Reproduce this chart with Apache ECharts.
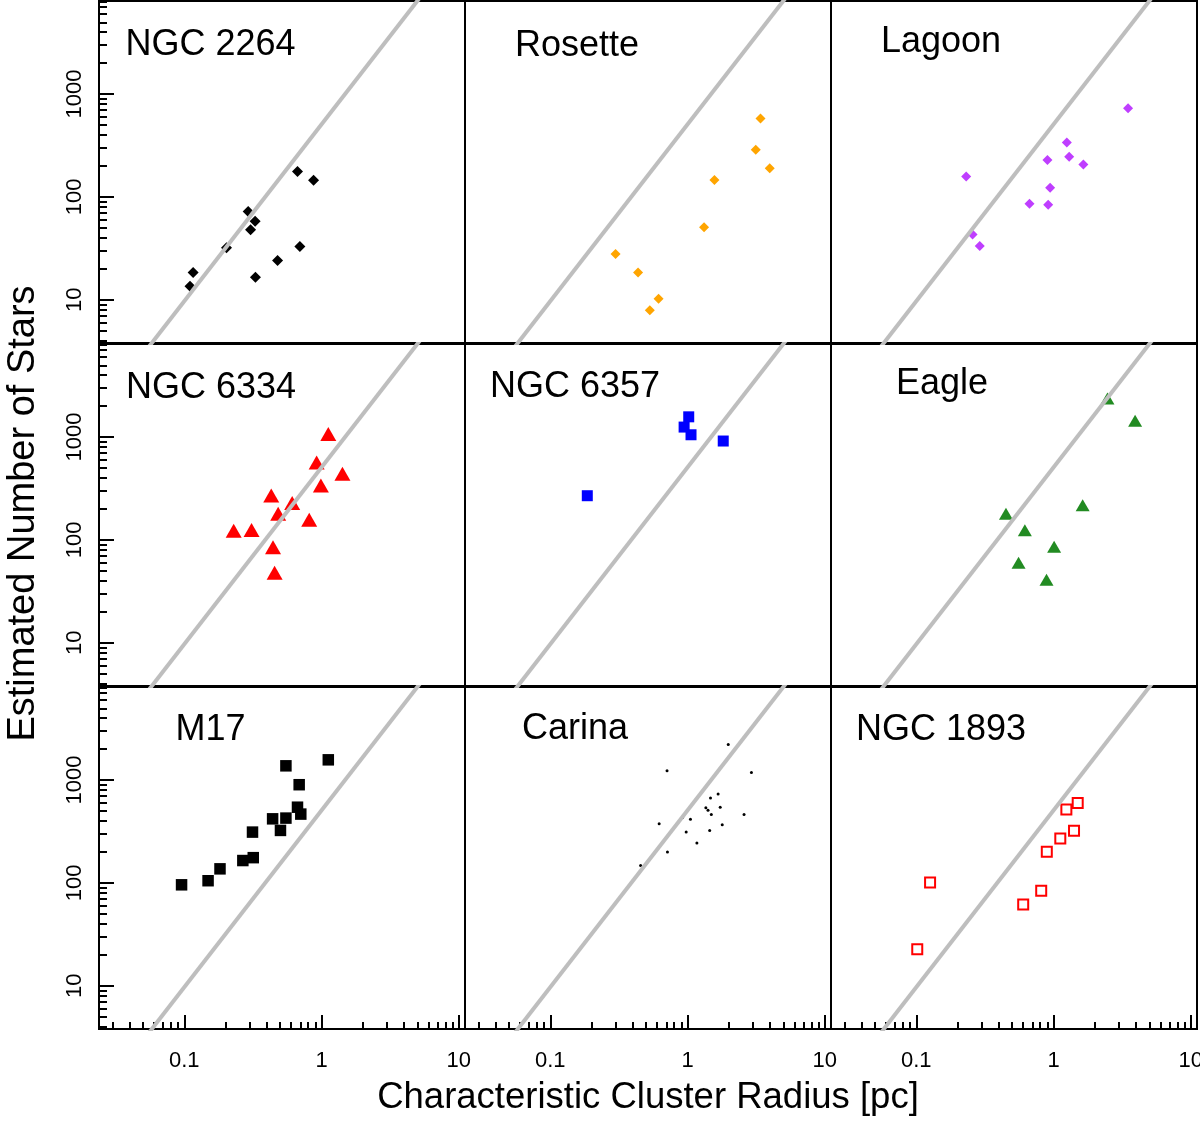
<!DOCTYPE html>
<html>
<head>
<meta charset="utf-8">
<script src="https://cdn.jsdelivr.net/npm/echarts@6/dist/echarts.min.js"></script>
<style>
html,body{margin:0;padding:0;background:#fff;}
#chart{width:1200px;height:1121px;}
</style>
</head>
<body>
<div id="chart"></div>
<script>
// ---------------- data (radius in pc, number of stars) ----------------
const panelNames = ['NGC 2264', 'Rosette', 'Lagoon', 'NGC 6334', 'NGC 6357', 'Eagle', 'M17', 'Carina', 'NGC 1893'];

const ngc2264Radius = [0.668, 0.875, 0.292, 0.328, 0.304, 0.203, 0.695, 0.478, 0.116, 0.110, 0.330];
const ngc2264Stars  = [177, 145, 72, 58, 48, 32, 33, 24, 18.4, 13.5, 16.5];

const rosetteRadius = [3.40, 3.14, 3.97, 1.57, 1.32, 0.299, 0.436, 0.615, 0.531];
const rosetteStars  = [578, 288, 190, 146, 50.6, 27.9, 18.4, 10.2, 7.9];

const lagoonRadius = [3.49, 1.25, 1.30, 0.903, 1.65, 0.231, 0.944, 0.668, 0.914, 0.257, 0.290];
const lagoonStars  = [728, 338, 246, 228, 207, 158, 123, 85.7, 83.8, 43, 33.3];

const ngc6334Radius = [1.12, 0.921, 1.42, 0.989, 0.430, 0.611, 0.483, 0.813, 0.229, 0.309, 0.443, 0.455];
const ngc6334Stars  = [1071, 565, 439, 338, 271, 228, 180, 157, 123, 125, 85, 48];

const ngc6357Radius = [1.02, 0.944, 1.06, 1.82, 0.186];
const ngc6357Stars  = [1575, 1252, 1054, 916, 269];

const eagleRadius = [2.47, 3.93, 1.63, 0.450, 0.618, 1.01, 0.556, 0.889];
const eagleStars  = [2373, 1442, 217, 180, 124, 85.7, 60, 41];

const m17Radius = [1.12, 0.550, 0.687, 0.668, 0.706, 0.440, 0.550, 0.502, 0.314, 0.318, 0.267, 0.182, 0.149, 0.0955];
const m17Stars  = [1575, 1377, 902, 545, 467, 420, 427, 324, 312, 176, 165, 137, 105, 95.8];

const carinaRadius = [1.98, 0.709, 2.92, 1.67, 1.47, 1.36, 1.41, 1.73, 1.49, 2.58, 1.05, 0.92, 0.621, 1.79, 1.45, 0.977, 1.17, 0.714, 0.455];
const carinaStars  = [2220, 1233, 1189, 733, 670, 537, 510, 545, 462, 462, 417, 432, 376, 367, 324, 312, 244, 200, 148];

const ngc1893Radius = [1.50, 1.24, 1.41, 1.12, 0.893, 0.126, 0.813, 0.601, 0.1016];
const ngc1893Stars  = [600, 517, 321, 271, 201, 101, 83.8, 61.8, 22.6];

// tick values / labels
const xMajorTicks = [0.1, 1, 10];
const xTickLabels = ['0.1', '1', '10'];
const xMinorTicks = [0.03, 0.04, 0.05, 0.06, 0.07, 0.08, 0.09, 0.2, 0.3, 0.4, 0.5, 0.6, 0.7, 0.8, 0.9, 2, 3, 4, 5, 6, 7, 8, 9];
const yMajorTicks = [10, 100, 1000];
const yTickLabels = ['10', '100', '1000'];
const yMinorTicks = [4, 5, 6, 7, 8, 9, 20, 30, 40, 50, 60, 70, 80, 90, 200, 300, 400, 500, 600, 700, 800, 900, 2000, 3000, 4000, 5000, 6000, 7000, 8000];

// axis ranges
const xRange = [0.0239, 11.1];
const yRange = [3.79, 8050];

// reference line N = refNorm * r^refSlope
const refNorm = 508;
const refSlope = 1.72;

const xTitle = 'Characteristic Cluster Radius [pc]';
const yTitle = 'Estimated Number of Stars';

// ---------------- styling ----------------
const panelData = [
  {r: ngc2264Radius, n: ngc2264Stars, symbol: 'diamond', size: 11, color: '#000000'},
  {r: rosetteRadius, n: rosetteStars, symbol: 'diamond', size: 10, color: '#FFA500'},
  {r: lagoonRadius, n: lagoonStars, symbol: 'diamond', size: 10, color: '#BF3EFF'},
  {r: ngc6334Radius, n: ngc6334Stars, symbol: 'triangle', size: [16, 14], color: '#FF0000'},
  {r: ngc6357Radius, n: ngc6357Stars, symbol: 'rect', size: 11, color: '#0000FF'},
  {r: eagleRadius, n: eagleStars, symbol: 'triangle', size: [14, 12], color: '#228B22'},
  {r: m17Radius, n: m17Stars, symbol: 'rect', size: 11.5, color: '#000000'},
  {r: carinaRadius, n: carinaStars, symbol: 'circle', size: 3, color: '#000000'},
  {r: ngc1893Radius, n: ngc1893Stars, symbol: 'rect', size: 10, color: 'rgba(0,0,0,0)', border: '#FF0000'}
];

const titlePos = [
  [125.5, 45], [515, 46], [881, 42.5],
  [126, 388.5], [490, 387.5], [896, 384.5],
  [175.5, 730.5], [522, 729.5], [856, 730.5]
];

const FONT = 'Liberation Sans, Arial, Helvetica, sans-serif';
const L = Math.log10;
const gridLeft = [99, 465, 831];
const gridTop = [1, 344, 687];
const gridW = 366, gridH = 342;
const TICK_W = 2;

function labelFor(v, ticks, labels) {
  for (let i = 0; i < ticks.length; i++) {
    if (Math.abs(L(ticks[i]) - v) < 1e-6) return labels[i];
  }
  return '';
}

const grids = [], xAxes = [], yAxes = [], series = [], graphics = [];

for (let i = 0; i < 9; i++) {
  const row = Math.floor(i / 3), col = i % 3;
  grids.push({
    left: gridLeft[col], top: gridTop[row], width: gridW, height: gridH,
    show: true, borderColor: '#000', borderWidth: 2, backgroundColor: 'rgba(0,0,0,0)',
    containLabel: false, outerBoundsMode: 'none'
  });
  const showX = row === 2, showY = col === 0;
  xAxes.push({
    type: 'value', gridIndex: i, position: 'bottom',
    min: L(xRange[0]), max: L(xRange[1]),
    axisLine: {show: false, onZero: false},
    splitLine: {show: false},
    axisTick: {show: showX, inside: true, length: 14, lineStyle: {color: '#000', width: TICK_W},
      customValues: xMajorTicks.map(L)},
    axisLabel: {show: showX, customValues: xMajorTicks.map(L), color: '#000', fontSize: 22, fontFamily: FONT, margin: 21,
      formatter: v => labelFor(v, xMajorTicks, xTickLabels)}
  });
  yAxes.push({
    type: 'value', gridIndex: i, position: 'left',
    min: L(yRange[0]), max: L(yRange[1]),
    axisLine: {show: false, onZero: false},
    splitLine: {show: false},
    axisTick: {show: showY, inside: true, length: 15, lineStyle: {color: '#000', width: TICK_W},
      customValues: yMajorTicks.map(L)},
    axisLabel: {show: showY, customValues: yMajorTicks.map(L), rotate: 90, color: '#000', fontSize: 22, fontFamily: FONT, margin: 13,
      formatter: v => labelFor(v, yMajorTicks, yTickLabels)}
  });

  const p = panelData[i];
  series.push({
    type: 'scatter', xAxisIndex: i, yAxisIndex: i,
    symbol: p.symbol, symbolSize: p.size,
    itemStyle: p.border ? {color: p.color, borderColor: p.border, borderWidth: 2, opacity: 1} : {color: p.color, opacity: 1},
    data: p.r.map((r, k) => [L(r), L(p.n[k])]),
    z: 2, silent: true
  });
  const x0 = L(xRange[0]), x1 = L(xRange[1]);
  series.push({
    type: 'line', xAxisIndex: i, yAxisIndex: i,
    showSymbol: false, symbol: 'none', clip: true,
    lineStyle: {color: '#BEBEBE', width: 4, opacity: 1},
    data: [[x0, L(refNorm) + refSlope * x0], [x1, L(refNorm) + refSlope * x1]],
    z: 3, silent: true
  });

  graphics.push({
    type: 'text', x: titlePos[i][0], y: titlePos[i][1], silent: true,
    style: {text: panelNames[i], fill: '#000', fontSize: 36, fontFamily: FONT, align: 'left', verticalAlign: 'middle'}
  });
}

// minor tick axes
for (let c = 0; c < 3; c++) {
  const gi = 6 + c;
  xAxes.push({
    type: 'value', gridIndex: gi, position: 'bottom',
    min: L(xRange[0]), max: L(xRange[1]),
    axisLine: {show: false, onZero: false}, splitLine: {show: false}, axisLabel: {show: false},
    axisTick: {show: true, inside: true, length: 7, lineStyle: {color: '#000', width: TICK_W}, customValues: xMinorTicks.map(L)}
  });
}
for (let r = 0; r < 3; r++) {
  const gi = 3 * r;
  yAxes.push({
    type: 'value', gridIndex: gi, position: 'left',
    min: L(yRange[0]), max: L(yRange[1]),
    axisLine: {show: false, onZero: false}, splitLine: {show: false}, axisLabel: {show: false},
    axisTick: {show: true, inside: true, length: 8, lineStyle: {color: '#000', width: TICK_W}, customValues: yMinorTicks.map(L)}
  });
}

graphics.push({
  type: 'text', x: 648, y: 1098, silent: true,
  style: {text: xTitle, fill: '#000', fontSize: 36.5, fontFamily: FONT, align: 'center', verticalAlign: 'middle'}
});
graphics.push({
  type: 'text', x: 24, y: 513.5, rotation: Math.PI / 2, silent: true,
  style: {text: yTitle, fill: '#000', fontSize: 38, fontFamily: FONT, align: 'center', verticalAlign: 'middle'}
});

const chart = echarts.init(document.getElementById('chart'), null, {renderer: 'canvas'});
chart.setOption({
  animation: false,
  backgroundColor: '#ffffff',
  grid: grids,
  xAxis: xAxes,
  yAxis: yAxes,
  series: series,
  graphic: graphics
});
</script>
</body>
</html>
